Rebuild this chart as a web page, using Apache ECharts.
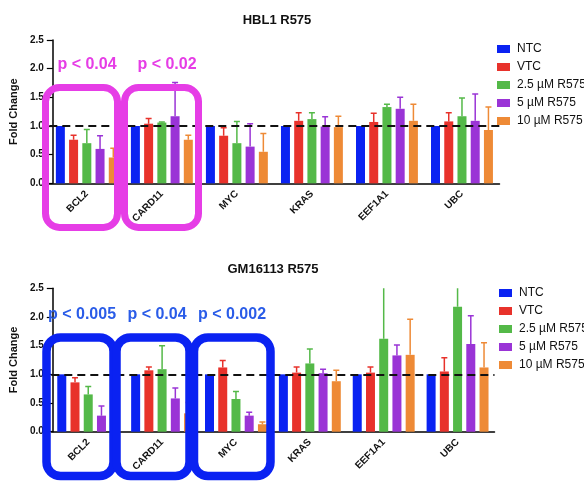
<!DOCTYPE html>
<html><head><meta charset="utf-8">
<script src="https://cdn.jsdelivr.net/npm/echarts@6/dist/echarts.min.js"></script>
<style>html,body{margin:0;padding:0;background:#fff}#c{width:584px;height:483px}</style>
</head><body><div id="c"></div>
<script>
const genes = ['BCL2','CARD11','MYC','KRAS','EEF1A1','UBC'];
const seriesNames = ['NTC','VTC','2.5 µM R575','5 µM R575','10 µM R575'];
const colors = ['#0a22f2','#e8322b','#54b948','#9a34d6','#ee8a36'];
const yTicks = [0, 0.5, 1.0, 1.5, 2.0, 2.5];

// HBL1 R575: mean fold change
const hbl1_NTC   = [1, 1, 1, 1, 1, 1];
const hbl1_VTC   = [0.76, 1.04, 0.83, 1.09, 1.07, 1.08];
const hbl1_2_5   = [0.70, 1.06, 0.70, 1.12, 1.33, 1.17];
const hbl1_5     = [0.60, 1.17, 0.64, 0.99, 1.30, 1.09];
const hbl1_10    = [0.45, 0.76, 0.55, 0.98, 1.09, 0.93];
// HBL1 R575: error (upper)
const hbl1_NTC_err = [0, 0, 0, 0, 0, 0];
const hbl1_VTC_err = [0.08, 0.09, 0.14, 0.14, 0.15, 0.15];
const hbl1_2_5_err = [0.24, 0.01, 0.38, 0.11, 0.05, 0.32];
const hbl1_5_err   = [0.23, 0.59, 0.40, 0.17, 0.20, 0.47];
const hbl1_10_err  = [0.16, 0.08, 0.32, 0.19, 0.29, 0.40];

// GM16113 R575: mean fold change
const gm_NTC   = [1, 1, 1, 1, 1, 1];
const gm_VTC   = [0.86, 1.07, 1.12, 1.03, 1.03, 1.05];
const gm_2_5   = [0.65, 1.09, 0.57, 1.19, 1.62, 2.18];
const gm_5     = [0.28, 0.58, 0.28, 1.02, 1.33, 1.53];
const gm_10    = [0.10, 0.32, 0.13, 0.88, 1.34, 1.12];
// GM16113 R575: error (upper)
const gm_NTC_err = [0, 0, 0, 0, 0, 0];
const gm_VTC_err = [0.08, 0.06, 0.12, 0.10, 0.10, 0.24];
const gm_2_5_err = [0.14, 0.41, 0.13, 0.25, 1.00, 0.50];
const gm_5_err   = [0.17, 0.18, 0.06, 0.07, 0.18, 0.49];
const gm_10_err  = [0.09, 0.19, 0.04, 0.19, 0.62, 0.43];

const hbl1Vals = [hbl1_NTC, hbl1_VTC, hbl1_2_5, hbl1_5, hbl1_10];
const hbl1Errs = [hbl1_NTC_err, hbl1_VTC_err, hbl1_2_5_err, hbl1_5_err, hbl1_10_err];
const gmVals = [gm_NTC, gm_VTC, gm_2_5, gm_5, gm_10];
const gmErrs = [gm_NTC_err, gm_VTC_err, gm_2_5_err, gm_5_err, gm_10_err];

const FONT = 'Arial, "Liberation Sans", Helvetica, sans-serif';
const BAR_W = 9, BAR_GAP = 0.47;

function xAxisOpt(gi){
  return {type:'category', gridIndex:gi, data:genes,
    axisLine:{lineStyle:{color:'#000', width:1.5}},
    axisTick:{alignWithLabel:true, length:5, lineStyle:{color:'#000', width:1.2}},
    axisLabel:{rotate:45, margin:9, color:'#111', fontSize:10, fontWeight:'bold', fontFamily:FONT}};
}
function yAxisOpt(gi, off){
  return {type:'value', gridIndex:gi, min:0, max:2.5, interval:0.5, offset:off,
    name:'Fold Change', nameLocation:'middle', nameGap:25,
    nameTextStyle:{color:'#111', fontSize:11, fontWeight:'bold', fontFamily:FONT},
    axisLine:{show:true, lineStyle:{color:'#000', width:1.5}},
    axisTick:{show:true, length:6, lineStyle:{color:'#000', width:1.2}},
    splitLine:{show:false},
    axisLabel:{margin:9, color:'#111', fontSize:10, fontWeight:'bold', fontFamily:FONT,
      formatter:v=>v.toFixed(1)}};
}
function errRender(idx, color){
  return function(params, api){
    const x = api.value(0);
    const p0 = api.coord([x, api.value(1)]);
    const p1 = api.coord([x, api.value(2)]);
    const gap = BAR_W*BAR_GAP;
    const total = 5*BAR_W + 4*gap;
    const cx = p0[0] - total/2 + BAR_W/2 + idx*(BAR_W+gap);
    if (api.value(2) <= api.value(1)) return null;
    return {type:'group', children:[
      {type:'line', shape:{x1:cx, y1:p0[1], x2:cx, y2:p1[1]}, style:{stroke:color, lineWidth:1.5}},
      {type:'line', shape:{x1:cx-3, y1:p1[1], x2:cx+3, y2:p1[1]}, style:{stroke:color, lineWidth:1.5}}
    ]};
  };
}
const series = [];
[[hbl1Vals, hbl1Errs],[gmVals, gmErrs]].forEach(([vals, errs], gi)=>{
  vals.forEach((arr, i)=>{
    const s = {type:'bar', name:seriesNames[i], xAxisIndex:gi, yAxisIndex:gi,
      data:arr, barWidth:BAR_W, barGap:(BAR_GAP*100)+'%',
      itemStyle:{color:colors[i]}, z:2};
    if (i===4){
      s.markLine = {symbol:'none', silent:true, z:10, label:{show:false},
        lineStyle:{type:[8,5], color:'#111', width:2}, data:[{yAxis:1}]};
    }
    series.push(s);
    series.push({type:'custom', name:seriesNames[i]+' err'+gi, xAxisIndex:gi, yAxisIndex:gi,
      clip:true, z:3, renderItem:errRender(i, colors[i]),
      data: arr.map((v,k)=>[k, v, v+errs[i][k]])});
  });
});

const magenta = '#e63de6', blueBox = '#0a22f2', blueText = '#2a5ce8';
function box(x,y,w,h,color,lw){
  return {type:'rect', z:100, shape:{x:x, y:y, width:w, height:h, r:14},
    style:{fill:'none', stroke:color, lineWidth:lw}};
}
function ptext(x,y,t,color){
  return {type:'text', z:100, x:x, y:y, style:{text:t, fill:color, font:'bold 16px '+FONT, textAlign:'center', textVerticalAlign:'middle'}};
}

const option = {
  animation:false,
  textStyle:{fontFamily:FONT},
  title:[
    {text:'HBL1 R575', left:272, top:9, textAlign:'center', textStyle:{fontSize:13, fontWeight:'bold', color:'#111', fontFamily:FONT}},
    {text:'GM16113 R575', left:268, top:258, textAlign:'center', textStyle:{fontSize:13, fontWeight:'bold', color:'#111', fontFamily:FONT}}
  ],
  legend:[
    {data:seriesNames, orient:'vertical', left:497, top:43, padding:0, itemWidth:13, itemHeight:8, itemGap:6, icon:'rect', selectedMode:false,
      textStyle:{fontSize:12, color:'#111', fontFamily:FONT, padding:[0,0,0,2]}},
    {data:seriesNames, orient:'vertical', left:499, top:287, padding:0, itemWidth:13, itemHeight:8, itemGap:6, icon:'rect', selectedMode:false,
      textStyle:{fontSize:12, color:'#111', fontFamily:FONT, padding:[0,0,0,2]}}
  ],
  grid:[
    {left:45.5, top:40, width:454, height:143.3},
    {left:41.5, top:288.3, width:453, height:143.4}
  ],
  xAxis:[xAxisOpt(0), xAxisOpt(1)],
  yAxis:[yAxisOpt(0, -3.5), yAxisOpt(1, -1.5)],
  series:series,
  graphic:[
    box(45.5,87.5,72,140,magenta,7),
    box(124.5,87.5,74,140,magenta,7),
    ptext(87,65,'p < 0.04',magenta),
    ptext(167,65,'p < 0.02',magenta),
    box(46.5,337.5,67,138.5,blueBox,8.5),
    box(116.5,337.5,73,138.5,blueBox,8.5),
    box(194,337.5,76.5,138.5,blueBox,8.5),
    ptext(82,315,'p < 0.005',blueText),
    ptext(157,315,'p < 0.04',blueText),
    ptext(232,315,'p < 0.002',blueText)
  ]
};
const chart = echarts.init(document.getElementById('c'), null, {renderer:'canvas'});
chart.setOption(option);
</script></body></html>
